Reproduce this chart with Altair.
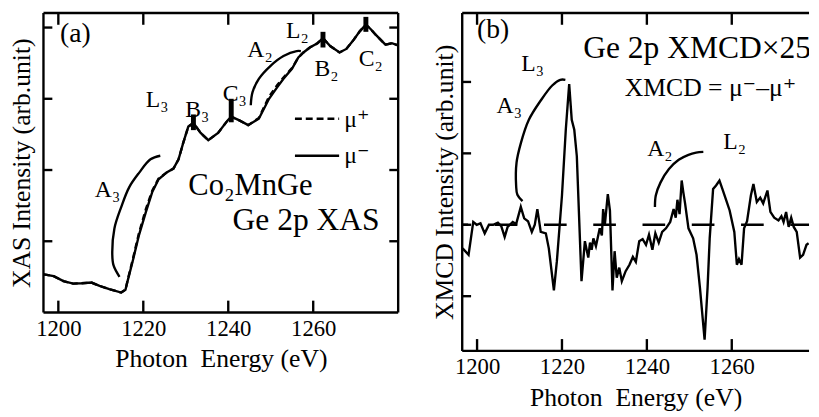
import altair as alt
import pandas as pd

FONT = "Liberation Serif, Times New Roman, DejaVu Serif, serif"

# ---------------- Panel (a): Ge 2p XAS ----------------
xas_energy = [1196.6, 1198.9, 1201.2, 1203.5, 1205.5, 1207.8, 1209.7, 1212.0, 1214.8, 1215.8,
              1216.3, 1217.5, 1219.0, 1220.6, 1222.1, 1223.6, 1225.6, 1227.1, 1228.3, 1229.4,
              1230.6, 1231.8, 1233.5, 1235.3, 1237.6, 1239.9, 1240.7, 1242.5, 1244.7, 1247.2,
              1249.6, 1251.5, 1253.0, 1255.0, 1256.5, 1257.7, 1259.2, 1261.0, 1262.3, 1264.0,
              1266.2, 1267.8, 1269.3, 1271.0, 1272.4, 1273.5, 1274.7, 1277.0, 1278.5, 1280.0]
mu_minus = [0.535, 0.51, 0.44, 0.405, 0.41, 0.42, 0.373, 0.328, 0.28, 0.318,
            0.44, 0.72, 1.09, 1.41, 1.69, 1.87, 1.97, 2.02, 2.15, 2.38,
            2.61, 2.66, 2.52, 2.42, 2.52, 2.70, 2.75, 2.70, 2.63, 2.72,
            3.00, 3.16, 3.28, 3.42, 3.58, 3.65, 3.72, 3.78, 3.85, 3.74,
            3.65, 3.70, 3.81, 3.95, 4.04, 3.98, 3.90, 3.76, 3.78, 3.75]
mu_plus = [0.535, 0.51, 0.44, 0.405, 0.41, 0.42, 0.373, 0.328, 0.28, 0.318,
           0.45, 0.74, 1.12, 1.45, 1.71, 1.88, 1.97, 2.02, 2.15, 2.38,
           2.61, 2.66, 2.52, 2.42, 2.52, 2.70, 2.75, 2.70, 2.63, 2.73,
           3.03, 3.19, 3.30, 3.43, 3.58, 3.65, 3.72, 3.78, 3.85, 3.74,
           3.65, 3.70, 3.81, 3.95, 4.04, 3.98, 3.90, 3.76, 3.78, 3.75]

arcA3_a_x = [1214.4, 1213.0, 1212.7, 1213.2, 1214.8, 1216.7, 1219.0, 1221.7, 1224.0]
arcA3_a_y = [0.50, 0.66, 0.81, 1.18, 1.48, 1.76, 1.96, 2.15, 2.20]
arcA2_a_x = [1245.3, 1245.7, 1247.2, 1249.9, 1253.0, 1256.1, 1257.1]
arcA2_a_y = [2.91, 3.09, 3.28, 3.46, 3.60, 3.67, 3.67]

marker_x = [1231.8, 1240.7, 1262.3, 1272.4]
marker_lo = [2.56, 2.67, 3.72, 3.94]
marker_hi = [2.78, 3.00, 3.94, 4.15]

labels_a_text = ["(a)", "L₃", "B₃", "C₃", "A₂", "L₂", "B₂", "C₂", "A₃",
                 "Co₂MnGe", "Ge 2p XAS", "μ⁺", "μ⁻"]
labels_a_x = [1200.4, 1220.6, 1229.9, 1238.7, 1244.5, 1253.6, 1260.3, 1270.7, 1208.6,
              1230.6, 1241.0, 1267.3, 1267.3]
labels_a_y = [3.80, 2.89, 2.75, 2.97, 3.58, 3.86, 3.32, 3.46, 1.62,
              1.65, 1.16, 2.61, 2.10]
labels_a_size = [28, 24, 24, 24, 24, 24, 24, 24, 24, 31, 32, 24, 24]

legend_x1, legend_x2 = 1255.7, 1266.1
legend_dash_y, legend_solid_y = 2.72, 2.20

# ---------------- Panel (b): Ge 2p XMCD ----------------
xmcd_energy = [1196.6, 1198.0, 1199.1, 1199.9, 1200.8, 1201.8, 1202.8, 1203.8, 1204.9, 1205.7,
               1206.5, 1207.2, 1208.4, 1209.2, 1210.3, 1211.1, 1212.0, 1212.9, 1213.6, 1214.2,
               1215.0, 1216.2, 1216.9, 1218.1, 1218.8, 1220.0, 1220.9, 1221.7, 1222.3, 1222.9,
               1223.5, 1224.6, 1225.4, 1226.2, 1226.6, 1227.0, 1227.4, 1228.0, 1228.9, 1229.4,
               1229.7, 1230.1, 1230.8, 1231.3, 1231.9, 1232.4, 1232.9, 1233.5, 1234.1, 1235.0,
               1235.9, 1236.7, 1237.4, 1238.2, 1239.0, 1239.8, 1240.5, 1241.3, 1242.0, 1242.8,
               1243.6, 1244.5, 1245.5, 1246.3, 1246.8, 1247.2, 1247.7, 1248.2, 1248.6, 1249.0,
               1249.8, 1250.9, 1251.7, 1252.5, 1253.6, 1254.3, 1254.8, 1255.6, 1256.3, 1257.1,
               1257.8, 1258.7, 1259.5, 1260.6, 1261.2, 1261.7, 1262.3, 1262.9, 1263.6, 1264.5,
               1265.1, 1265.9, 1266.7, 1267.4, 1268.4, 1269.1, 1270.0, 1271.0, 1271.7, 1272.2,
               1272.8, 1273.4, 1274.0, 1274.6, 1275.3, 1276.1, 1276.8, 1277.6, 1278.1]
xmcd = [-0.33, -0.42, 0.04, 0.00, 0.02, -0.12, 0.00, 0.00, 0.03, -0.02,
        -0.17, -0.03, 0.04, 0.01, 0.25, 0.09, 0.05, -0.10, 0.00, 0.22,
        -0.10, -0.12, -0.33, -0.92, -0.51, 0.41, 1.33, 1.97, 1.47, 1.33,
        0.96, -0.79, -0.23, -0.46, -0.25, -0.35, -0.19, -0.30, -0.05, -0.15,
        0.22, 0.00, 0.43, 0.20, -0.92, -0.37, -0.74, -0.60, -0.79, -0.65,
        -0.56, -0.45, -0.52, -0.23, -0.20, -0.28, -0.14, -0.35, -0.12, -0.25,
        -0.10, -0.05, 0.04, 0.22, 0.10, 0.35, 0.15, 0.62, 0.45, 0.30,
        -0.05, -0.19, -0.42, -0.88, -1.61, -0.88, -0.19, 0.50, 0.55, 0.62,
        0.50, 0.34, 0.20, -0.10, -0.56, -0.48, -0.56, -0.05, 0.05, 0.41,
        0.57, 0.32, 0.38, 0.30, 0.48, 0.18, 0.10, 0.06, 0.12, 0.04,
        0.18, -0.03, 0.10, -0.03, -0.10, -0.46, -0.42, -0.28, -0.26]

arcA3_b_x = [1210.7, 1209.5, 1209.2, 1209.3, 1210.3, 1212.2, 1215.0, 1217.7, 1219.6, 1220.8]
arcA3_b_y = [0.33, 0.42, 0.55, 0.87, 1.14, 1.47, 1.74, 1.95, 2.03, 2.03]
arcA2_b_x = [1241.9, 1242.1, 1243.2, 1245.2, 1247.5, 1249.8, 1251.6, 1253.3]
arcA2_b_y = [0.25, 0.41, 0.59, 0.78, 0.91, 0.98, 1.01, 1.02]

labels_b_text = ["(b)", "L₃", "A₃", "Ge 2p XMCD×25", "XMCD = μ⁻–μ⁺", "A₂", "L₂"]
labels_b_x = [1200.0, 1210.4, 1204.6, 1225.0, 1234.8, 1240.1, 1258.0]
labels_b_y = [2.61, 2.15, 1.56, 2.34, 1.81, 0.96, 1.06]
labels_b_size = [28, 24, 24, 32, 26, 24, 24]

x_ticks = [1200, 1220, 1240, 1260]
ya_ticks = [1, 2, 3, 4]
yb_ticks = [-1, 0, 1, 2]

# ---------------- geometry ----------------
W_A, H_A = 360, 304
W_B, H_B = 352, 343
XA_DOM = [1196.5, 1280.0]
YA_DOM = [0.0, 4.205]
XB_DOM = [1196.5, 1278.2]
YB_DOM = [-1.766, 2.966]

XT_LEN, YT_LEN, LW, CW = 12, 9, 2.4, 2.4


def x_enc(dom):
    return alt.X("x:Q", scale=alt.Scale(domain=dom, nice=False, zero=False),
                 axis=alt.Axis(title="Photon\u00a0 Energy (eV)", values=x_ticks, ticks=False,
                               tickSize=0, domain=False, grid=False, labelPadding=5,
                               titlePadding=6, format="d",
                               labelFont=FONT, titleFont=FONT, labelFontSize=23,
                               titleFontSize=26, labelColor="black", titleColor="black",
                               titleFontWeight="normal"))


def y_enc(dom, title, tp):
    return alt.Y("y:Q", scale=alt.Scale(domain=dom, nice=False, zero=False),
                 axis=alt.Axis(title=title, labels=False, ticks=False, tickSize=0,
                               domain=False, grid=False, titlePadding=tp,
                               titleFont=FONT, titleFontSize=26, titleColor="black",
                               titleFontWeight="normal"))


def one():
    return pd.DataFrame({"k": [0]})


def panel(W, H, xdom, ydom, ytitle, tp, curves, arcs, texts, yticks, right_frame, extra):
    X = x_enc(xdom)
    Y = y_enc(ydom, ytitle, tp)
    layers = []
    layers.append(alt.Chart(one()).mark_rule(color="black", strokeWidth=LW).encode(
        x=alt.value(0), x2=alt.value(W), y=alt.value(0)))
    layers.append(alt.Chart(one()).mark_rule(color="black", strokeWidth=LW).encode(
        x=alt.value(0), x2=alt.value(W), y=alt.value(H)))
    layers.append(alt.Chart(one()).mark_rule(color="black", strokeWidth=LW).encode(
        x=alt.value(0), y=alt.value(0), y2=alt.value(H)))
    if right_frame:
        layers.append(alt.Chart(one()).mark_rule(color="black", strokeWidth=LW).encode(
            x=alt.value(W), y=alt.value(0), y2=alt.value(H)))
    xt = pd.DataFrame({"x": x_ticks})
    layers.append(alt.Chart(xt).mark_rule(color="black", strokeWidth=LW).encode(
        x=X, y=alt.value(H), y2=alt.value(H - XT_LEN)))
    layers.append(alt.Chart(xt).mark_rule(color="black", strokeWidth=LW).encode(
        x=X, y=alt.value(0), y2=alt.value(XT_LEN)))
    yt = pd.DataFrame({"y": yticks})
    layers.append(alt.Chart(yt).mark_rule(color="black", strokeWidth=LW).encode(
        y=Y, x=alt.value(0), x2=alt.value(YT_LEN)))
    if right_frame:
        layers.append(alt.Chart(yt).mark_rule(color="black", strokeWidth=LW).encode(
            y=Y, x=alt.value(W - YT_LEN), x2=alt.value(W)))
    layers.extend(extra(X, Y))
    for (xs, ys, dash) in curves:
        df = pd.DataFrame({"x": xs, "y": ys, "i": range(len(xs))})
        kw = {"strokeDash": dash} if dash else {}
        layers.append(alt.Chart(df).mark_line(color="black", strokeWidth=CW, clip=True, **kw).encode(
            x=X, y=Y, order="i:Q"))
    for (xs, ys) in arcs:
        df = pd.DataFrame({"x": xs, "y": ys, "i": range(len(xs))})
        layers.append(alt.Chart(df).mark_line(color="black", strokeWidth=CW,
                                              interpolate="catmull-rom").encode(
            x=X, y=Y, order="i:Q"))
    tx, ty, tt, ts = texts
    tdf = pd.DataFrame({"x": tx, "y": ty, "t": tt, "s": ts})
    layers.append(alt.Chart(tdf).mark_text(font=FONT, align="left", baseline="alphabetic",
                                           color="black", clip=True).encode(
        x=X, y=Y, text="t:N", size=alt.Size("s:Q", scale=None)))
    return alt.layer(*layers).properties(width=W, height=H)


def extra_a(X, Y):
    mk = pd.DataFrame({"x": marker_x, "y": marker_lo, "y2": marker_hi})
    lg_d = pd.DataFrame({"x": [legend_x1], "x2": [legend_x2], "y": [legend_dash_y]})
    lg_s = pd.DataFrame({"x": [legend_x1], "x2": [legend_x2], "y": [legend_solid_y]})
    return [
        alt.Chart(mk).mark_rule(color="black", strokeWidth=5).encode(x=X, y=Y, y2="y2:Q"),
        alt.Chart(lg_d).mark_rule(color="black", strokeWidth=CW, strokeDash=[7, 4]).encode(
            x=X, x2="x2:Q", y=Y),
        alt.Chart(lg_s).mark_rule(color="black", strokeWidth=CW).encode(x=X, x2="x2:Q", y=Y),
    ]


def extra_b(X, Y):
    z = pd.DataFrame({"x": [XB_DOM[0]], "x2": [XB_DOM[1]], "y": [0.0]})
    return [alt.Chart(z).mark_rule(color="black", strokeWidth=CW, strokeDash=[23, 27],
                                   strokeDashOffset=17).encode(x=X, x2="x2:Q", y=Y)]


panel_a = panel(W_A, H_A, XA_DOM, YA_DOM, "XAS Intensity (arb.unit)", 9,
                [(xas_energy, mu_plus, [6, 4]), (xas_energy, mu_minus, None)],
                [(arcA3_a_x, arcA3_a_y), (arcA2_a_x, arcA2_a_y)],
                (labels_a_x, labels_a_y, labels_a_text, labels_a_size),
                ya_ticks, True, extra_a)

panel_b = panel(W_B, H_B, XB_DOM, YB_DOM, "XMCD Intensity (arb.unit)", 5,
                [(xmcd_energy, xmcd, None)],
                [(arcA3_b_x, arcA3_b_y), (arcA2_b_x, arcA2_b_y)],
                (labels_b_x, labels_b_y, labels_b_text, labels_b_size),
                yb_ticks, False, extra_b)

chart = alt.hconcat(panel_a, panel_b, spacing=32).properties(
    padding={"left": 0, "top": 0, "right": 0, "bottom": 0}
).configure_view(stroke=None).configure_concat(spacing=32)

chart.save("out.html", embed_options={"renderer": "svg", "actions": False})
